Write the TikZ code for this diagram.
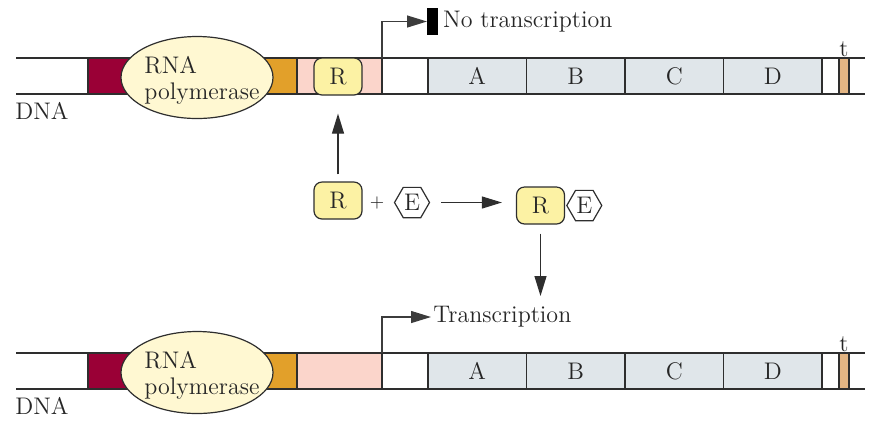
\documentclass[tikz,border=0pt]{standalone}
\usepackage{tikz}
\usetikzlibrary{arrows.meta,positioning,shapes.geometric}

\definecolor{linec}{HTML}{2E2E2E}
\definecolor{promc}{HTML}{3C3C3C}
\definecolor{crimc}{HTML}{9A0036}
\definecolor{orac}{HTML}{E2A02A}
\definecolor{pinkc}{HTML}{FBD5CB}
\definecolor{polc}{HTML}{FFF8D2}
\definecolor{repc}{HTML}{FCF2A4}
\definecolor{genec}{HTML}{E0E6EA}
\definecolor{tanc}{HTML}{E3B583}

\tikzset{
	seg/.style={draw=linec, line width=0.6pt, minimum height=18pt, inner sep=0pt, outer sep=0pt, anchor=west},
	gene/.style={seg, fill=genec, minimum width=49.25pt},
	pol/.style={ellipse, draw=linec, line width=0.6pt, fill=polc, minimum width=76pt, minimum height=41pt, inner sep=0pt},
	rep/.style={draw=linec, line width=0.6pt, fill=repc, rounded corners=4pt, minimum width=24pt, minimum height=18.5pt, inner sep=0pt},
	eff/.style={regular polygon, regular polygon sides=6, draw=linec, line width=0.6pt, fill=white, minimum size=17.5pt, inner sep=0pt},
	lbl/.style={inner sep=1pt},
	arr/.style={-{Triangle[length=10pt,width=6pt]}, line width=0.6pt, draw=linec},
	prom/.style={arr, draw=promc}
}

\begin{document}
\begin{tikzpicture}[x=0.5pt, y=-0.5pt, font=\fontsize{12}{13}\selectfont, text=black!85]
	\useasboundingbox (0,0) rectangle (877,420);
	% the two DNA strands
	\foreach \s/\y in {t/76,b/371}{
		\node[seg, fill=crimc, minimum width=31pt] (crim\s) at (88,\y) {};
		\node[seg, fill=orac, minimum width=28.5pt] (ora\s) at (240,\y) {};
		\node[seg, fill=pinkc, minimum width=42.5pt] (pink\s) at (297,\y) {};
		\node[seg, fill=white, minimum width=23pt] (gap\s) at (382,\y) {};
		\foreach \g [count=\i from 0] in {A,B,C,D}
			\node[gene] (\g\s) at ({428+98.5*\i},\y) {\g};
		\node[seg, fill=white, minimum width=8.5pt] (end\s) at (822,\y) {};
		\node[seg, fill=tanc, minimum width=5pt] (tan\s) at (839,\y) {};
		\draw[linec, line width=0.6pt] (16,\y-18) -- (865,\y-18) (16,\y+18) -- (865,\y+18);
		\node[pol] (pol\s) at (197,\y+1.5) {};
		\node[lbl, align=left] (poltxt\s) at ([shift={(2.5pt,-1.5pt)}]pol\s.center) {RNA\\polymerase};
		\node[lbl, anchor=west] (dna\s) at (13,\y+35) {DNA};
		\node[lbl, anchor=south, inner sep=0.5pt] (term\s) at (tan\s.north) {t};
	}
	% repressor bound: no transcription
	\node[rep] (Rt) at (338,76.5) {R};
	\node[fill=black, minimum width=5.5pt, minimum height=13.5pt, inner sep=0pt, anchor=west] (bar) at (427,21.5) {};
	\node[lbl, right=1pt of bar] (notr) {No transcription};
	\draw[prom] (gapt.north west) |- (bar.west);
	% effector binds repressor
	\node[rep] (R1) at (338,200.5) {R};
	\node[lbl, font=\fontsize{9}{10}\selectfont] (plus) at (377,203) {+};
	\node[eff] (E1) at (412,202.5) {E};
	\node[rep] (R2) at (540.5,205.5) {R};
	\node[eff, right=0.5pt of R2] (E2) {E};
	\coordinate (dn) at (540.5,296);
	\draw[arr, shorten <=3.5pt, shorten >=9pt] (R1) -- (Rt);
	\draw[arr, shorten <=5.5pt, shorten >=7pt] (E1.east) -- (E1.east -| R2.west);
	\draw[arr, shorten <=4.5pt] (R2.south) -- (dn);
	% free operator: transcription
	\node[lbl, anchor=west] (tr) at (431,317) {Transcription};
	\draw[prom] (gapb.north west) |- (tr.west);
\end{tikzpicture}
\end{document}
